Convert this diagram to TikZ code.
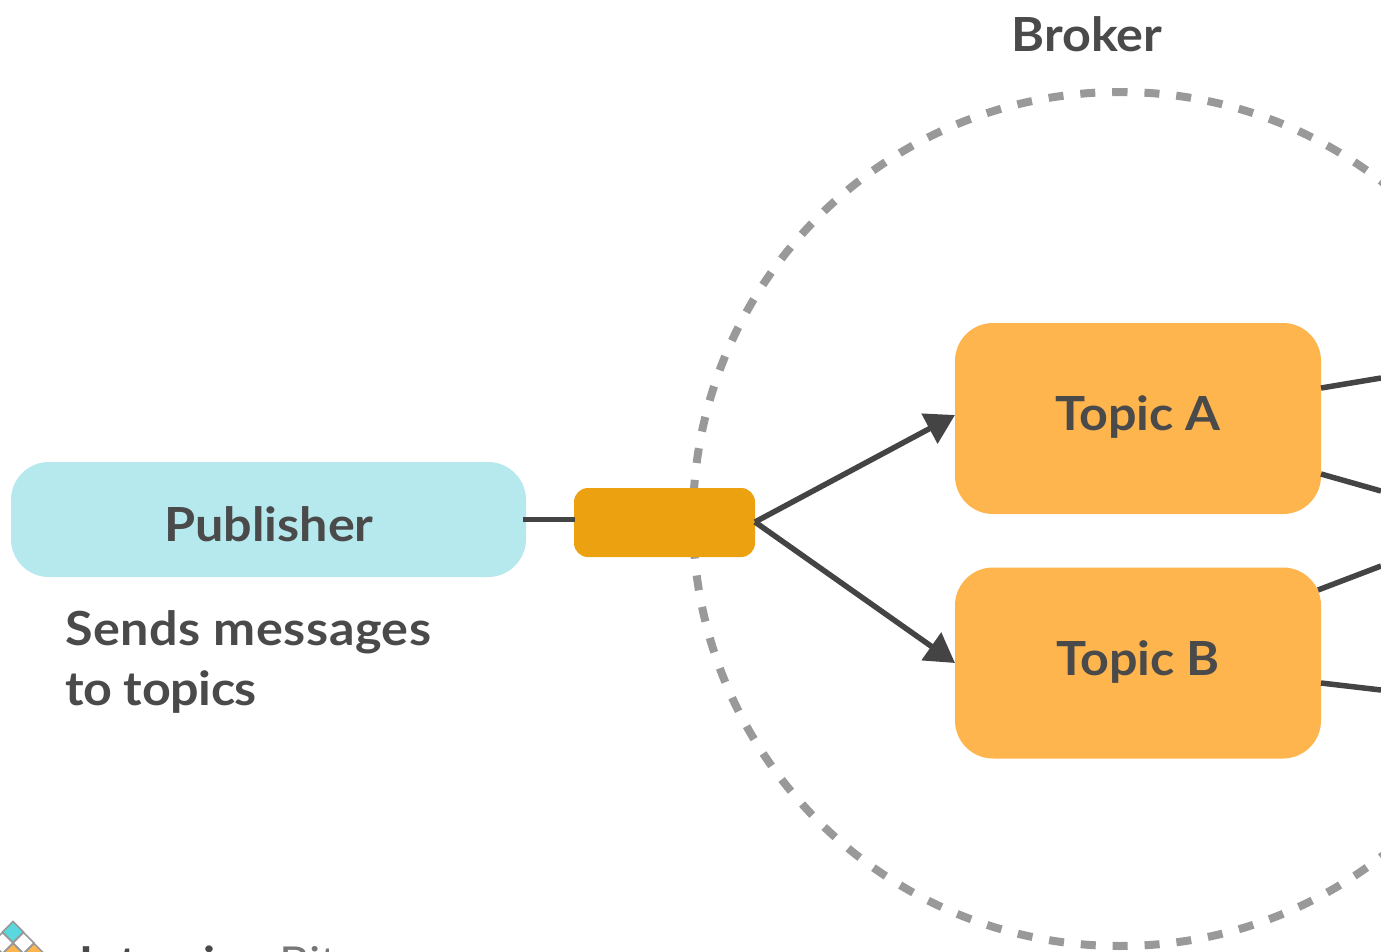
\documentclass[tikz,border=0pt]{standalone}
\usepackage{fontspec}
\setmainfont[FakeStretch=1.07]{Lato}
\usetikzlibrary{arrows.meta}
\definecolor{txt}{HTML}{4A4A4A}
\definecolor{dk}{HTML}{444444}
\definecolor{pub}{HTML}{B6E9EE}
\definecolor{topic}{HTML}{FFB54D}
\definecolor{msg}{HTML}{ECA110}
\definecolor{ring}{HTML}{999999}
\definecolor{logoc}{HTML}{5AD8E0}
\tikzset{
  lbl/.style={font=\fontsize{47}{60}\selectfont\bfseries, text=txt, inner sep=0pt},
  topicbox/.style={fill=topic, rounded corners=38, minimum width=366, minimum height=191, inner sep=0pt},
  conn/.style={draw=dk, line width=5.5},
  arr/.style={conn, -{Triangle[length=29,width=33]}},
  cell/.style={draw=ring, line width=1.5},
  logodark/.style={font=\fontsize{44}{44}\selectfont\bfseries, text=txt, inner sep=0pt, anchor=base west},
  logolight/.style={font=\fontsize{44}{44}\selectfont, text=txt!75, inner sep=0pt, anchor=base west},
}
\newcommand{\logocell}[3]{\path[cell,fill=#3] (#1,#2-10.5) -- (#1+10.5,#2) -- (#1,#2+10.5) -- (#1-10.5,#2) -- cycle;}
\begin{document}
\begin{tikzpicture}[x=1pt,y=-1pt]
\useasboundingbox (0,0) rectangle (1381,952);
\fill[white] (0,0) rectangle (1381,952);
\begin{scope}
\clip (0,0) rectangle (1381,952);
\draw[ring, line width=8, dash pattern=on 15pt off 16.94pt, dash phase=7.5pt] (1120,92) arc[start angle=-90, delta angle=360, radius=427];
\logocell{13}{932}{logoc}
\logocell{2.5}{943}{white}
\logocell{23.5}{943}{white}
\logocell{13}{954}{topic}
\logocell{34}{954}{topic}
\node[logodark] (lg1) at (79,978) {Interview};
\node[logolight] (lg2) at (279,978) {Bit};
\end{scope}
\node[fill=pub, rounded corners=38, minimum width=515, minimum height=115, inner sep=0pt] (pub) at (268.5,519.5) {};
\node[lbl] (publab) at (269,524) {Publisher};
\node[lbl, anchor=base west] (send1) at (65,645) {\addfontfeatures{LetterSpace=1.2}Sends messages};
\node[lbl, anchor=base west] (send2) at (65,705) {\addfontfeatures{LetterSpace=-0.9}to topics};
\node[lbl] (broker) at (1087,34) {Broker};
\node[fill=msg, rounded corners=14, minimum width=181, minimum height=69, inner sep=0pt] (msg) at (664.5,522.5) {};
\node[topicbox] (ta) at (1138,418.5) {};
\node[topicbox] (tb) at (1138,663) {};
\node[lbl] (tal) at (1138,417) {Topic A};
\node[lbl] (tbl) at (1138,662) {Topic B};
\coordinate (pubout) at (523,519.5);
\coordinate (msgin) at (575,519.5);
\draw[conn] (pubout) -- (msgin);
\coordinate (msgout) at (755,522);
\coordinate (tain) at (955,415);
\coordinate (tbin) at (955,663);
\draw[arr] (msgout) -- (tain);
\draw[arr] (msgout) -- (tbin);
\coordinate (a1) at (1321,388);
\coordinate (a2) at (1321,474);
\coordinate (b1) at (1318,590);
\coordinate (b2) at (1321,683);
\coordinate (e1) at (1381,378);
\coordinate (e2) at (1381,491);
\coordinate (e3) at (1381,566);
\coordinate (e4) at (1381,690);
\draw[conn] (a1) -- (e1);
\draw[conn] (a2) -- (e2);
\draw[conn] (b1) -- (e3);
\draw[conn] (b2) -- (e4);
\end{tikzpicture}
\end{document}
